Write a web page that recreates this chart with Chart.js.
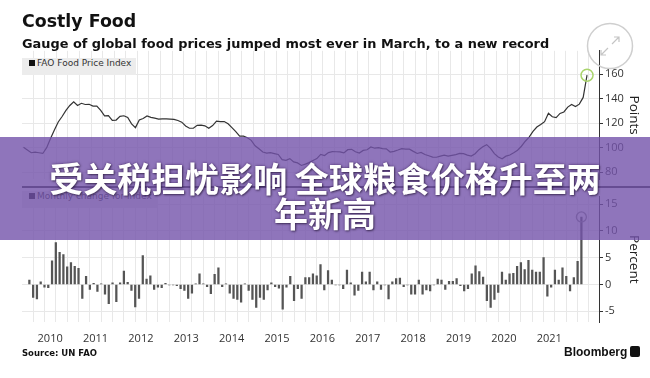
<!DOCTYPE html>
<html>
<head>
<meta charset="utf-8">
<script src="https://cdn.jsdelivr.net/npm/chart.js@4.4.1/dist/chart.umd.min.js"></script>
<style>
  html, body { margin: 0; padding: 0; background: #fff; }
  #wrap { position: relative; width: 650px; height: 378px; overflow: hidden; font-family: "DejaVu Sans", sans-serif; }
  #topChart { position: absolute; left: 0; top: 0; }
  #bottomChart { position: absolute; left: 0; top: 188px; }
  .legend { position: absolute; left: 22px; height: 17px; line-height: 17px; background: #ececec;
            font: 9px "DejaVu Sans", sans-serif; color: #333; padding: 0 5px 0 7px; white-space: nowrap; }
  .legend i { display: inline-block; width: 6px; height: 6px; background: #111; margin-right: 2px; }
  #sep { position: absolute; left: 22px; top: 186px; width: 628px; height: 2px; background: #333; }
  #expand { position: absolute; left: 586px; top: 22px; }
  #banner { position: absolute; left: 0; top: 137px; width: 650px; height: 103px; background: rgba(115, 82, 170, 0.8); }
  #banner div { width: 572px; margin: 0 auto; padding-top: 23px; text-align: center; color: #fff;
                font: bold 34px/35px "Noto Sans CJK SC", sans-serif;
                text-shadow: 0 0 3px rgba(50, 20, 80, 0.7), 1px 1px 2px rgba(0, 0, 0, 0.45); }
  #source { position: absolute; left: 22px; top: 348px; font: bold 8.5px "DejaVu Sans", sans-serif; color: #111; }
  #brand { position: absolute; left: 564px; top: 345px; font: bold 12px "Liberation Sans", sans-serif; color: #111; }
  #brand span { display: inline-block; width: 10px; height: 11px; background: #111; border-radius: 2px; margin-left: 3px; vertical-align: -1px; }
</style>
</head>
<body>
<div id="wrap">
  <canvas id="topChart" width="650" height="188"></canvas>
  <canvas id="bottomChart" width="650" height="170"></canvas>
  <div class="legend" style="top:58px"><i></i>FAO Food Price Index</div>
  <div class="legend" style="top:191px"><i></i>Monthly change for index</div>
  <div id="sep"></div>
  <svg id="expand" width="48" height="50" viewBox="0 0 48 50">
    <circle cx="24" cy="24" r="22.5" fill="none" stroke="#cfcfcf" stroke-width="1.5"/>
    <path d="M26 22 L33 15 M28 15 L33 15 L33 20" fill="none" stroke="#c4c4c4" stroke-width="1.2"/>
    <path d="M22 26 L15 33 M15 28 L15 33 L20 33" fill="none" stroke="#c4c4c4" stroke-width="1.2"/>
  </svg>
  <div id="source">Source: UN FAO</div>
  <div id="brand">Bloomberg<span></span></div>
  <div id="banner"><div>受关税担忧影响 全球粮食价格升至两年新高</div></div>
</div>
<script>
// FAO Food Price Index, monthly Jan 2010 - Mar 2022 (points)
const startYear = 2010;
const foodIndex = [
  100.4, 98.2, 95.9, 96.4, 95.9, 95.3, 100.0, 107.5, 114.5, 121.0, 125.5, 130.5, // 2010
  134.5, 137.5, 134.5, 136.3, 135.3, 135.5, 134.0, 134.1, 130.5, 126.0, 126.3, 122.3, // 2011
  122.6, 125.6, 126.1, 124.7, 119.5, 116.4, 122.7, 123.9, 125.9, 124.8, 124.2, 123.4, // 2012
  123.6, 123.5, 123.4, 123.2, 122.2, 120.9, 117.8, 115.9, 116.0, 118.3, 118.4, 117.9, // 2013
  115.9, 118.1, 121.8, 121.3, 121.4, 119.5, 116.4, 113.1, 109.4, 109.4, 108.2, 106.0, // 2014
  101.6, 99.2, 96.5, 95.6, 95.9, 95.2, 94.5, 90.2, 89.7, 91.1, 88.4, 87.6,            // 2015
  85.5, 86.6, 87.8, 89.6, 91.1, 94.5, 93.6, 96.0, 96.8, 96.7, 96.6, 95.8,             // 2016
  98.4, 98.7, 96.7, 95.6, 97.8, 98.3, 100.6, 99.6, 100.1, 99.2, 99.1, 96.5,           // 2017
  97.0, 98.1, 99.3, 98.9, 98.8, 97.0, 95.3, 96.1, 94.4, 93.4, 92.3, 92.2,             // 2018
  93.1, 93.9, 93.1, 93.7, 94.3, 95.3, 95.1, 94.0, 93.2, 95.1, 98.4, 100.8,            // 2019
  102.5, 99.4, 95.1, 92.4, 91.0, 93.1, 94.0, 95.9, 97.9, 101.2, 105.3, 108.6,         // 2020
  113.3, 116.9, 119.0, 121.3, 128.1, 125.3, 124.6, 128.0, 129.2, 133.2, 135.3, 133.7, // 2021
  135.6, 141.1, 159.3                                                                 // 2022
];
// Monthly change for index (percent)
const monthlyChange = [
  0.8, -2.4, -2.7, 0.5, -0.5, -0.6, 4.4, 7.8, 6.0, 5.6, 3.3, 4.1,
  3.4, 3.0, -2.6, 1.5, -0.9, 0.2, -1.3, 0.1, -1.8, -3.6, 0.3, -3.2,
  0.3, 2.5, 0.4, -1.1, -4.2, -2.6, 5.4, 1.0, 1.6, -0.9, -0.5, -0.6,
  0.2, -0.1, -0.1, -0.2, -0.8, -1.1, -2.6, -1.6, 0.1, 2.0, 0.1, -0.4,
  -1.7, 1.9, 3.1, -0.4, 0.1, -1.6, -2.6, -2.8, -3.3, 0.1, -1.1, -2.8,
  -4.3, -2.4, -2.8, -1.0, 0.3, -0.4, -0.7, -4.6, -0.5, 1.5, -3.0, -0.8,
  -2.6, 1.3, 1.3, 2.0, 1.6, 3.7, -1.0, 2.6, 0.8, -0.1, -0.1, -0.8,
  2.7, 0.3, -2.0, -1.1, 2.3, 0.5, 2.3, -1.0, 0.5, -0.9, -0.1, -2.7,
  0.5, 1.1, 1.2, -0.4, -0.1, -1.8, -1.8, 0.8, -1.8, -1.0, -1.2, -0.1,
  1.0, 0.8, -0.9, 0.6, 0.6, 1.1, -0.2, -1.2, -0.8, 2.0, 3.5, 2.4,
  1.4, -3.0, -4.3, -2.8, -1.5, 2.3, 0.8, 2.0, 2.1, 3.4, 4.1, 2.8,
  4.5, 2.7, 2.3, 2.3, 5.0, -2.2, -0.5, 2.7, 0.8, 3.1, 1.5, -1.2,
  1.3, 4.3, 12.6
];
const years = ['2010', '2011', '2012', '2013', '2014', '2015', '2016', '2017', '2018', '2019', '2020', '2021'];
const pointTicks = [80, 100, 120, 140, 160];
const percentTicks = [-5, 0, 5, 10, 15];

// x axis is months since Jan 2010; gridlines every quarter, year labels mid-year
const xMin = -0.39, xMax = 149.1;
const gridTicks = [];
for (let v = 2.5; v < xMax; v += 3) gridTicks.push(v);
const last = foodIndex.length - 1;

const gridColor = '#e8e8e8';
const tickFont = { family: 'Open Sans', size: 11 };
const titleFont = { family: 'Open Sans', size: 13.5 };

new Chart(document.getElementById('topChart'), {
  type: 'line',
  data: {
    datasets: [{
      label: 'FAO Food Price Index',
      data: foodIndex.map((v, i) => ({ x: i, y: v })),
      borderColor: '#333',
      borderWidth: 1.2,
      tension: 0,
      pointRadius: (ctx) => (ctx.dataIndex === last ? 6 : 0),
      pointBorderColor: '#a9d46c',
      pointBackgroundColor: 'rgba(0,0,0,0)',
      pointBorderWidth: 1.5
    }]
  },
  options: {
    responsive: false,
    animation: false,
    layout: { padding: { left: 22, right: 0, top: 0, bottom: 1 } },
    plugins: {
      legend: { display: false },
      tooltip: { enabled: false },
      title: {
        display: true, text: 'Costly Food', align: 'start', color: '#111',
        font: { family: 'DejaVu Sans', size: 17.4, weight: 'bold', lineHeight: 1 },
        padding: { top: 14, bottom: 0 }
      },
      subtitle: {
        display: true, text: 'Gauge of global food prices jumped most ever in March, to a new record',
        align: 'start', color: '#111',
        font: { family: 'DejaVu Sans', size: 12.9, weight: 'bold', lineHeight: 1 },
        padding: { top: 6.5, bottom: 0 }
      }
    },
    scales: {
      x: {
        type: 'linear', min: xMin, max: xMax,
        afterBuildTicks: (s) => { s.ticks = gridTicks.map((v) => ({ value: v })); },
        afterFit: (s) => { s.height = 0; },
        ticks: { display: false },
        grid: { color: gridColor, drawTicks: false },
        border: { display: false }
      },
      y: {
        position: 'right', min: 74.1, max: 179.2,
        afterBuildTicks: (s) => { s.ticks = pointTicks.map((v) => ({ value: v })); },
        afterFit: (s) => { s.width = 51; },
        ticks: { font: tickFont, color: '#333', padding: 2 },
        grid: { color: gridColor, tickColor: '#333', tickLength: 4 },
        border: { color: '#333' },
        title: { display: true, text: 'Points', color: '#222', font: titleFont, padding: { top: 8, bottom: 0 } }
      }
    }
  }
});

new Chart(document.getElementById('bottomChart'), {
  type: 'bar',
  data: {
    datasets: [{
      type: 'scatter',
      label: 'latest',
      data: [{ x: last, y: monthlyChange[last] }],
      pointRadius: 5,
      pointBorderColor: '#8c8c8c',
      pointBackgroundColor: 'rgba(0,0,0,0)',
      pointBorderWidth: 1.3
    }, {
      label: 'Monthly change for index',
      data: monthlyChange.map((v, i) => ({ x: i, y: v })),
      backgroundColor: '#555',
      barThickness: 1.6
    }]
  },
  options: {
    responsive: false,
    animation: false,
    layout: { padding: { left: 22, right: 0, top: 0, bottom: 6 } },
    plugins: { legend: { display: false }, tooltip: { enabled: false } },
    scales: {
      x: {
        type: 'linear', min: xMin, max: xMax,
        afterBuildTicks: (s) => { s.ticks = gridTicks.map((v) => ({ value: v })); },
        afterFit: (s) => { s.height = 30; },
        ticks: {
          autoSkip: false, maxRotation: 0, font: tickFont, color: '#333', padding: 10,
          callback: (v) => {
            const k = (v - 5.5) / 12;
            return Number.isInteger(k) && years[k] ? years[k] : '';
          }
        },
        grid: { color: gridColor, drawTicks: false },
        border: { display: false }
      },
      y: {
        position: 'right', min: -7, max: 16.4,
        afterBuildTicks: (s) => { s.ticks = percentTicks.map((v) => ({ value: v })); },
        afterFit: (s) => { s.width = 51; },
        ticks: { font: tickFont, color: '#333', padding: 2 },
        grid: { color: gridColor, tickColor: '#333', tickLength: 4 },
        border: { color: '#333' },
        title: { display: true, text: 'Percent', color: '#222', font: titleFont, padding: { top: 8, bottom: 0 } }
      }
    }
  }
});
</script>
</body>
</html>
